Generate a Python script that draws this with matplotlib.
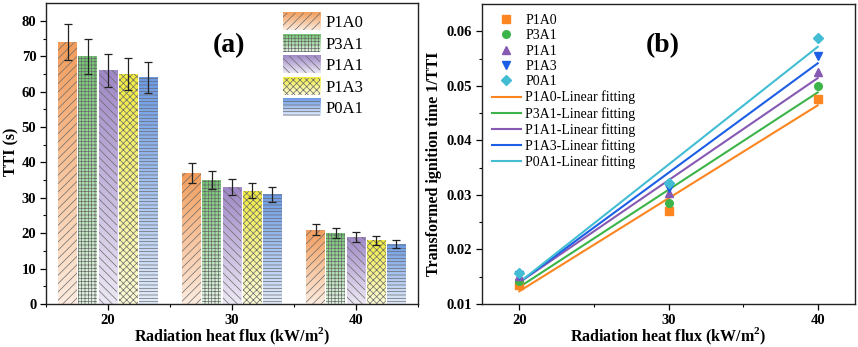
import numpy as np
import matplotlib
matplotlib.use("Agg")
import matplotlib.pyplot as plt
from matplotlib.patches import Rectangle
from matplotlib.image import BboxImage
from matplotlib.transforms import Bbox, TransformedBbox
from matplotlib.legend_handler import HandlerBase
from matplotlib.colors import to_rgb

plt.rcParams['font.family'] = ['Liberation Serif', 'DejaVu Serif']
plt.rcParams['hatch.linewidth'] = 0.5
plt.rcParams['mathtext.fontset'] = 'custom'
plt.rcParams['mathtext.rm'] = 'Liberation Serif'
plt.rcParams['mathtext.bf'] = 'Liberation Serif:bold'

# ---------------- data ----------------
flux = [20, 30, 40]
samples = ["P1A0", "P3A1", "P1A1", "P1A3", "P0A1"]
tti = {
    "P1A0": [74, 37, 21],
    "P3A1": [70, 35, 20],
    "P1A1": [66, 33, 19],
    "P1A3": [65, 32, 18],
    "P0A1": [64, 31, 17],
}
tti_err = {
    "P1A0": [5.2, 2.7, 1.5],
    "P3A1": [4.9, 2.5, 1.4],
    "P1A1": [4.7, 2.3, 1.4],
    "P1A3": [4.6, 2.2, 1.2],
    "P0A1": [4.5, 2.1, 1.2],
}

# ---------------- styles ----------------
bar_top = {"P1A0": "#F29D5C", "P3A1": "#74C874", "P1A1": "#9F88C6",
           "P1A3": "#F2EC3E", "P0A1": "#6C9BE6"}
hatches = {"P1A0": "////", "P3A1": "+++++", "P1A1": "\\\\\\\\",
           "P1A3": "xxxxx", "P0A1": "-----"}
pt_colors = {"P1A0": "#FB8520", "P3A1": "#3CB44A", "P1A1": "#8659B3",
             "P1A3": "#1C5FE6", "P0A1": "#42BDD4"}
markers = {"P1A0": "s", "P3A1": "o", "P1A1": "^", "P1A3": "v", "P0A1": "D"}
hatch_col = "#6a6a6a"


def gradient(color, n=64):
    c = np.array(to_rgb(color))
    light = c + (1 - c) * 0.8
    t = np.linspace(0, 1, n)[:, None]  # 0 top -> 1 bottom
    arr = c[None, :] * (1 - t) + light[None, :] * t
    return arr[:, None, :]


class GradHandler(HandlerBase):
    def __init__(self, color, hatch):
        super().__init__()
        self.color = color
        self.hatch = hatch

    def create_artists(self, legend, orig_handle, xdescent, ydescent,
                       width, height, fontsize, trans):
        x0, y0 = -xdescent, -ydescent
        bb = TransformedBbox(Bbox.from_bounds(x0, y0, width, height), trans)
        img = BboxImage(bb, interpolation="bilinear")
        img.set_data(gradient(self.color))
        r = Rectangle((x0, y0), width, height, facecolor="none",
                      edgecolor=hatch_col, linewidth=0, hatch=self.hatch,
                      transform=trans)
        return [img, r]


fig = plt.figure(figsize=(8.58, 3.47), dpi=100)
axa = fig.add_axes([0.0536, 0.124, 0.4336, 0.867])
axb = fig.add_axes([0.5618, 0.124, 0.4347, 0.864])

# ---------------- panel (a) ----------------
x = np.arange(len(flux))
w = 0.152
step = 0.162
handles = []
for i, s in enumerate(samples):
    xs = x + (i - 2) * step
    bars = axa.bar(xs, tti[s], width=w, facecolor="none", edgecolor=hatch_col,
                   linewidth=0, hatch=hatches[s], zorder=3)
    for b in bars:
        bx, by = b.get_x(), b.get_y()
        bw, bh = b.get_width(), b.get_height()
        im = axa.imshow(gradient(bar_top[s]), extent=[bx, bx + bw, by, by + bh],
                        aspect="auto", interpolation="bilinear", zorder=2)
        im.set_clip_path(b)
    axa.errorbar(xs, tti[s], yerr=tti_err[s], fmt="none", ecolor="#222222",
                 elinewidth=0.9, capsize=3, capthick=0.9, zorder=4)
    handles.append(Rectangle((0, 0), 1, 1))

axa.set_xlim(-0.5, 2.5)
axa.set_ylim(0, 85)
axa.set_xticks(x)
axa.set_xticklabels([str(f) for f in flux])
axa.set_xticks([-0.5, 0.5, 1.5, 2.5], minor=True)
axa.set_yticks(np.arange(0, 81, 10))
axa.set_yticks(np.arange(5, 85, 10), minor=True)
axa.set_ylabel("TTI (s)", fontsize=11.5, fontweight="bold")
axa.yaxis.set_label_coords(-0.072, 0.505)
axa.set_xlabel(r"Radiation heat flux (kW/m$^{\mathbf{2}}$)", fontsize=11.5,
               fontweight="bold", labelpad=-1)
axa.text(0.492, 0.86, "(a)", transform=axa.transAxes, fontsize=20,
         fontweight="bold", ha="center", va="center")
leg_a = axa.legend(handles, samples, loc="upper left",
                   bbox_to_anchor=(0.61, 1.0), frameon=False, fontsize=12,
                   handlelength=2.25, handleheight=1.2, handletextpad=0.3,
                   labelspacing=0.2, borderaxespad=0.2,
                   handler_map={h: GradHandler(bar_top[s], hatches[s])
                                for h, s in zip(handles, samples)})

# ---------------- panel (b) ----------------
flux_arr = np.array(flux, dtype=float)
for s in samples:
    inv = 1.0 / np.array(tti[s], dtype=float)
    axb.plot(flux_arr, inv, linestyle="none", marker=markers[s],
             color=pt_colors[s], markersize=5.5 if markers[s] != "D" else 5,
             label=s, zorder=4)
for s in samples:
    inv = 1.0 / np.array(tti[s], dtype=float)
    k, b0 = np.polyfit(flux_arr, inv, 1)
    axb.plot(flux_arr, k * flux_arr + b0, color=pt_colors[s], lw=1.5,
             label=f"{s}-Linear fitting", zorder=3)

axb.set_xlim(17.5, 42.5)
axb.set_ylim(0.01, 0.065)
axb.set_xticks(flux)
axb.set_xticks([25, 35], minor=True)
axb.set_yticks([0.01, 0.02, 0.03, 0.04, 0.05, 0.06])
axb.set_yticks([0.015, 0.025, 0.035, 0.045, 0.055], minor=True)
axb.set_yticklabels(["0.01", "0.02", "0.03", "0.04", "0.05", "0.06"])
axb.set_ylabel("Transformed ignition time 1/TTI", fontsize=11.5,
               fontweight="bold")
axb.yaxis.set_label_coords(-0.106, 0.467)
axb.set_xlabel(r"Radiation heat flux (kW/m$^{\mathbf{2}}$)", fontsize=11.5,
               fontweight="bold", labelpad=-1)
axb.text(0.485, 0.863, "(b)", transform=axb.transAxes, fontsize=20,
         fontweight="bold", ha="center", va="center")
axb.legend(loc="upper left", bbox_to_anchor=(0.0, 1.0), frameon=False,
           fontsize=10, handlelength=2.1, handletextpad=0.3,
           labelspacing=0.17, borderaxespad=0.3)

for ax in (axa, axb):
    ax.tick_params(which="major", direction="out", length=4, width=0.9,
                   labelsize=10.5, pad=3)
    ax.tick_params(which="minor", direction="out", length=2, width=0.8)
    for lab in ax.get_xticklabels() + ax.get_yticklabels():
        lab.set_fontweight("bold")
    for sp in ax.spines.values():
        sp.set_linewidth(1.0)
        sp.set_color("#222222")

fig.savefig("out.png", dpi=100)
